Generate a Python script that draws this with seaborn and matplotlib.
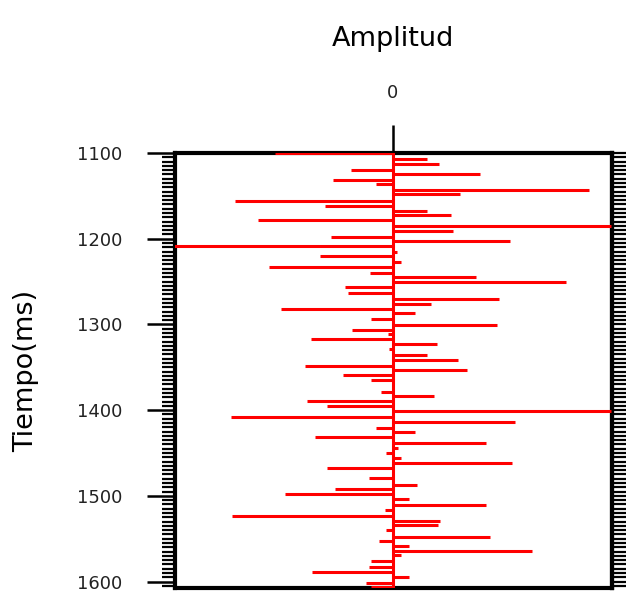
import matplotlib
matplotlib.use("Agg")
import matplotlib.pyplot as plt
import seaborn as sns
import numpy as np
import pandas as pd
from matplotlib.ticker import MultipleLocator

# Data: reflection coefficient series
tiempo_ms = [1100.0, 1106.7, 1112.5, 1119.5, 1125.0, 1132.0, 1136.2, 1142.8, 1147.9, 1155.7,
             1161.5, 1167.3, 1172.8, 1178.7, 1184.9, 1190.7, 1197.7, 1203.2, 1209.0, 1215.2,
             1220.7, 1227.7, 1233.5, 1240.1, 1245.2, 1250.6, 1256.9, 1263.4, 1270.1, 1275.9,
             1281.7, 1286.7, 1293.4, 1300.4, 1306.2, 1311.3, 1317.1, 1323.4, 1328.8, 1335.8,
             1341.6, 1348.3, 1352.9, 1359.6, 1365.4, 1378.9, 1384.1, 1389.9, 1394.9, 1401.6,
             1408.6, 1414.4, 1421.0, 1425.6, 1431.9, 1438.5, 1444.3, 1450.1, 1456.0, 1461.8,
             1467.6, 1479.3, 1486.8, 1492.2, 1497.6, 1503.8, 1510.5, 1517.1, 1523.0, 1529.2,
             1533.8, 1539.7, 1547.5, 1552.5, 1558.3, 1564.2, 1569.6, 1575.5, 1582.5, 1588.3,
             1594.9, 1601.2, 1605.9]
amplitud = [-0.118, 0.034, 0.046, -0.042, 0.087, -0.060, -0.017, 0.196, 0.067, -0.158,
            -0.068, 0.034, 0.058, -0.135, 0.218, 0.060, -0.062, 0.117, -0.220, 0.004,
            -0.073, 0.008, -0.124, -0.023, 0.083, 0.173, -0.048, -0.045, 0.106, 0.038,
            -0.112, 0.022, -0.022, 0.104, -0.041, -0.005, -0.082, 0.044, -0.004, 0.034,
            0.065, -0.088, 0.074, -0.050, -0.022, -0.012, 0.041, -0.086, -0.066, 0.218,
            -0.162, 0.122, -0.017, 0.022, -0.078, 0.093, 0.005, -0.007, 0.008, 0.119,
            -0.066, -0.024, 0.024, -0.058, -0.108, 0.016, 0.093, -0.008, -0.161, 0.047,
            0.045, -0.007, 0.097, -0.014, 0.016, 0.139, 0.008, -0.022, -0.024, -0.081,
            0.016, -0.027, -0.022]
x_ticks = [0]
x_ticklabels = ["0"]
y_ticks = [1100, 1200, 1300, 1400, 1500, 1600]

df = pd.DataFrame({"Tiempo": tiempo_ms, "Amplitud": amplitud})

sns.set_theme(style="white")
plt.rcParams["font.family"] = ["DejaVu Sans"]

fig = plt.figure(figsize=(6.31, 5.92), dpi=100)
ax = fig.add_axes([0.2773, 0.0068, 0.6925, 0.7348])

red = "#ff0000"
ax.hlines(df["Tiempo"], 0, df["Amplitud"], color=red, lw=2.2, zorder=3)
ax.axvline(0, color=red, lw=2.2, zorder=3)

ax.set_xlim(-0.218, 0.219)
ax.set_ylim(1607.5, 1100)

for s in ax.spines.values():
    s.set_visible(True)
    s.set_color("black")
    s.set_linewidth(3)

# top x axis
ax.xaxis.set_ticks_position("top")
ax.xaxis.set_label_position("top")
ax.set_xticks(x_ticks)
ax.set_xticklabels(x_ticklabels)
ax.tick_params(axis="x", which="major", direction="out", length=20, width=1.8,
               color="black", pad=17, labelsize=13, labelcolor="#222222",
               top=True, bottom=False)
ax.set_xlabel("Amplitud", fontsize=19.5, labelpad=27, color="black")

# left y axis
ax.set_yticks(y_ticks)
ax.yaxis.set_minor_locator(MultipleLocator(5))
ax.tick_params(axis="y", which="major", direction="out", length=20, width=1.8,
               color="black", pad=18, labelsize=13, labelcolor="#222222",
               left=True, right=False)
ax.tick_params(axis="y", which="minor", direction="out", length=9.5, width=1.6,
               color="black", left=True, right=False)
ax.set_ylabel("Tiempo(ms)", fontsize=19.5, labelpad=27, color="black")

# right side ticks
sec = ax.secondary_yaxis("right")
sec.set_yticks(y_ticks)
sec.yaxis.set_minor_locator(MultipleLocator(5))
sec.set_yticklabels([])
sec.tick_params(axis="y", which="both", direction="out", length=10, width=1.6,
                color="black")
sec.spines["right"].set_linewidth(3)

fig.savefig("out.png", dpi=100)
